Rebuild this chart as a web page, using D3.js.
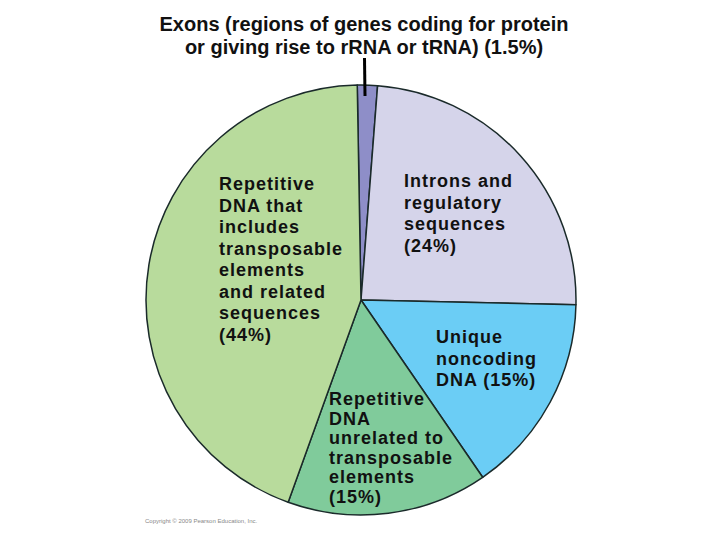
<!DOCTYPE html>
<html><head><meta charset="utf-8">
<script src="https://cdn.jsdelivr.net/npm/d3@7"></script>
<style>body{margin:0;background:#fff}svg{display:block}text{font-family:"Liberation Sans",Arial,sans-serif;font-weight:bold;fill:#111}</style>
</head><body>
<svg id="c" width="720" height="540"></svg>
<script>
const categories = ["Exons", "Introns and regulatory sequences", "Unique noncoding DNA", "Repetitive DNA unrelated to transposable elements", "Repetitive DNA that includes transposable elements and related sequences"];
const values = [1.5, 24, 15, 15, 44];
const colors = ["#8e8ec8", "#d5d4ea", "#6bcdf5", "#80cb9b", "#b8db9c"];
const titleLines = ["Exons (regions of genes coding for protein", "or giving rise to rRNA or tRNA) (1.5%)"];
const labelLines = [
  null,
  ["Introns and", "regulatory", "sequences", "(24%)"],
  ["Unique", "noncoding", "DNA (15%)"],
  ["Repetitive", "DNA", "unrelated to", "transposable", "elements", "(15%)"],
  ["Repetitive", "DNA that", "includes", "transposable", "elements", "and related", "sequences", "(44%)"]
];
const labelPos = [null, [404, 187, 21.5], [436, 343, 21.5], [329, 405, 19.5], [219, 190, 21.5]];

const svg = d3.select("#c");
const cx = 361, cy = 300, r = 215;
const off = -1 * Math.PI / 180;
const pie = d3.pie().sort(null).value(d => d).startAngle(off).endAngle(2 * Math.PI + off);
const arc = d3.arc().innerRadius(0).outerRadius(r);
const g = svg.append("g").attr("transform", `translate(${cx},${cy})`);
g.selectAll("path").data(pie(values)).join("path")
  .attr("d", arc).attr("fill", (d, i) => colors[i])
  .attr("stroke", "#1a2a2a").attr("stroke-width", 1.5).attr("stroke-linejoin", "round");

svg.selectAll("text.title").data(titleLines).join("text").attr("class", "title")
  .attr("x", 364).attr("y", (d, i) => 31 + i * 23).attr("text-anchor", "middle")
  .attr("font-size", 20).text(d => d);

svg.append("line").attr("x1", 364.5).attr("y1", 58).attr("x2", 365).attr("y2", 96)
  .attr("stroke", "#000").attr("stroke-width", 3);

labelLines.forEach((lines, i) => {
  if (!lines) return;
  const [x, y, dy] = labelPos[i];
  const t = svg.append("text").attr("font-size", 18).attr("letter-spacing", 1);
  lines.forEach((s, j) => t.append("tspan").attr("x", x).attr("y", y + j * dy).text(s));
});

svg.append("text").attr("x", 145).attr("y", 523).attr("font-size", 6)
  .style("font-weight", "normal").style("fill", "#888").text("Copyright © 2009 Pearson Education, Inc.");
</script>
</body></html>
